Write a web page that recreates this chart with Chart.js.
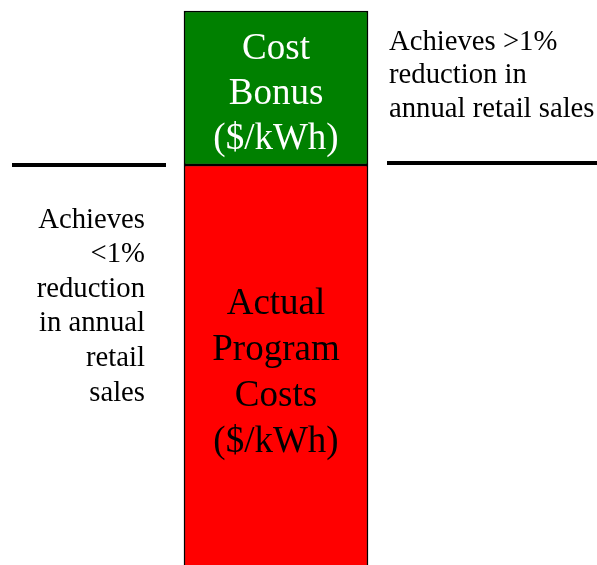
<!DOCTYPE html>
<html>
<head>
<meta charset="utf-8">
<script src="https://cdn.jsdelivr.net/npm/chart.js@4/dist/chart.umd.min.js"></script>
<style>
  body { margin: 0; background: #fff; }
  #wrap { width: 597px; height: 565px; position: relative; }
</style>
</head>
<body>
<div id="wrap"><canvas id="chart"></canvas></div>
<script>
// Data
const categories = ["Program"];
const actualCosts = [4.0];
const costBonus = [1.54];
const yMax = 5.65;

const bonusLabel = ["Cost", "Bonus", "($/kWh)"];
const costLabel = ["Actual", "Program", "Costs", "($/kWh)"];
const belowNote = ["Achieves", "<1%", "reduction", "in annual", "retail", "sales"];
const aboveNote = ["Achieves >1%", "reduction in", "annual retail sales"];

const serif = "'Liberation Serif', 'Times New Roman', serif";

// Draws labels and the two threshold lines
const notesPlugin = {
  id: "notes",
  afterDraw(chart) {
    const ctx = chart.ctx;
    const y = chart.scales.y;
    const bar = chart.getDatasetMeta(1).data[0];
    const redBar = chart.getDatasetMeta(0).data[0];
    const cx = bar.x;
    const lineY = y.getPixelForValue(actualCosts[0]) - 1;

    ctx.save();
    ctx.textBaseline = "middle";

    // text inside green part
    ctx.font = "37px " + serif;
    ctx.fillStyle = "#ffffff";
    ctx.textAlign = "center";
    const greenMid = (bar.y + bar.base) / 2 + 6;
    bonusLabel.forEach((t, i) => {
      ctx.fillText(t, cx, greenMid + (i - 1) * 45);
    });

    // text inside red part
    ctx.fillStyle = "#000000";
    const redMid = (redBar.y + redBar.base) / 2 + 8;
    costLabel.forEach((t, i) => {
      ctx.fillText(t, cx, redMid + (i - 1.5) * 46);
    });

    // side notes
    ctx.font = "28.7px " + serif;
    ctx.textAlign = "right";
    belowNote.forEach((t, i) => {
      ctx.fillText(t, 145, lineY + 56 + i * 34.6);
    });
    ctx.textAlign = "left";
    aboveNote.forEach((t, i) => {
      ctx.fillText(t, 389, lineY - 122 + i * 33.5);
    });

    // threshold lines
    ctx.strokeStyle = "#000000";
    ctx.lineWidth = 4;
    ctx.beginPath();
    ctx.moveTo(12, lineY + 1);
    ctx.lineTo(166, lineY + 1);
    ctx.moveTo(387, lineY - 1);
    ctx.lineTo(597, lineY - 1);
    ctx.stroke();
    ctx.restore();
  }
};

new Chart(document.getElementById("chart"), {
  type: "bar",
  data: {
    labels: categories,
    datasets: [
      {
        label: "Actual Program Costs",
        data: actualCosts,
        backgroundColor: "#ff0000",
        borderColor: "#000000",
        borderWidth: 1.5,
        barThickness: 184
      },
      {
        label: "Cost Bonus",
        data: costBonus,
        backgroundColor: "#008000",
        borderColor: "#000000",
        borderWidth: 1.5,
        borderSkipped: false,
        barThickness: 184
      }
    ]
  },
  options: {
    responsive: true,
    maintainAspectRatio: false,
    animation: false,
    layout: { padding: { left: 0, right: 45, top: 0, bottom: 0 } },
    plugins: {
      legend: { display: false },
      tooltip: { enabled: false }
    },
    scales: {
      x: { stacked: true, display: false },
      y: { stacked: true, display: false, min: 0, max: yMax }
    }
  },
  plugins: [notesPlugin]
});
</script>
</body>
</html>
